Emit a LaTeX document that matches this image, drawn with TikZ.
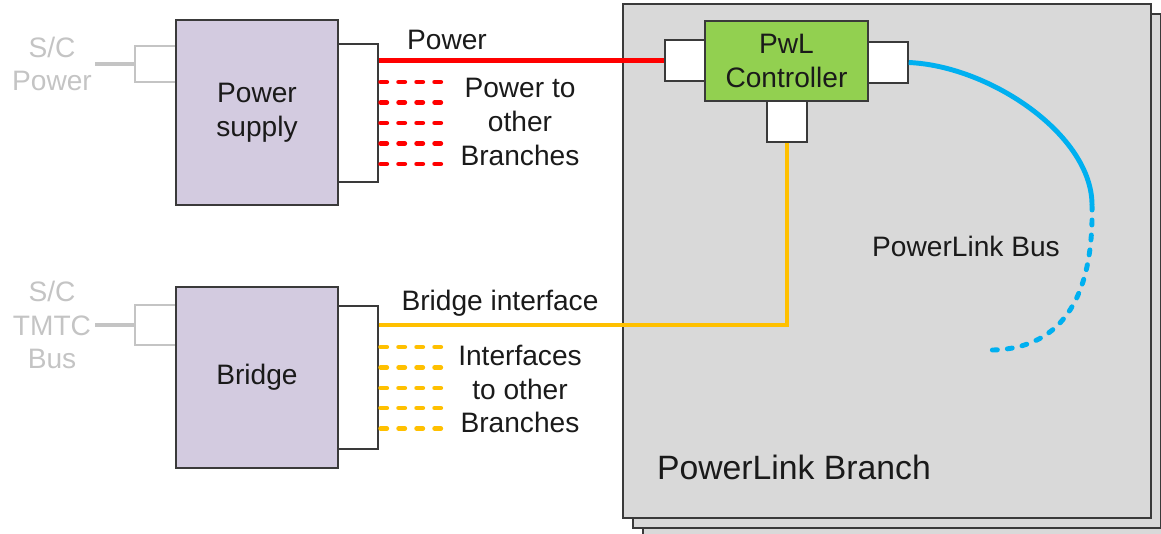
\documentclass[tikz,border=0pt]{standalone}
\usepackage{fontspec}
\setmainfont{Liberation Sans}

\definecolor{lawenda}{HTML}{D3CBE0}
\definecolor{zielony}{HTML}{92D050}
\definecolor{szary}{HTML}{D9D9D9}
\definecolor{jasnoszary}{HTML}{C4C4C4}
\definecolor{czerwony}{HTML}{FF0000}
\definecolor{pomarancz}{HTML}{FFC000}
\definecolor{niebieski}{HTML}{00B0F0}
\definecolor{ramka}{HTML}{3A3A3A}
\definecolor{tekst}{HTML}{1A1A1A}

\newcommand\napis{\fontsize{20}{24}\selectfont}

\tikzset{
  blok/.style={draw=ramka, line width=1pt, fill=lawenda, minimum width=4.05cm,
    align=center, font=\napis, text=tekst},
  port/.style={draw=ramka, line width=1pt, fill=white, minimum width=1cm,
    minimum height=1.025cm, inner sep=0pt},
  wtyk/.style={draw=jasnoszary, line width=1pt, fill=white, minimum width=1.025cm,
    inner sep=0pt},
  strona/.style={draw=ramka, line width=0.8pt, fill=szary},
  opis/.style={align=center, font=\napis, text=tekst, inner sep=0pt},
  szaryopis/.style={opis, text=jasnoszary},
  linia/.style={line width=3.5pt},
  kropki/.style={line width=3.5pt, line cap=round, dash pattern=on 0.15cm off 0.3cm},
  kreski/.style={line width=3.5pt, line cap=round, dash pattern=on 0.125cm off 0.25cm}
}

\begin{document}
\begin{tikzpicture}[x=0.025cm, y=-0.025cm]

% Parametry
\def\xdot{379}
\def\ldot{64}

\clip (0,0) rectangle (1161,533);

% ---------- Galaz: trzy strony ----------
\foreach \d in {20,10,0}
  \draw[strona] (623+\d,4+\d) rectangle (1151+\d,518+\d);
\node[opis, font=\fontsize{24}{28}\selectfont] (branch) at (794,467) {PowerLink Branch};

% ---------- Zasilacz ----------
\coordinate (pszr) at (95,64);
\node[wtyk, minimum height=0.9cm] (pscon) at (155.5,64) {};
\draw[linia, jasnoszary, line width=3pt] (pszr) -- (pscon.west);
\node[szaryopis] (pslab) at (52,64) {S/C\\Power};
\node[blok, minimum height=4.625cm] (ps) at (257,112.5) {Power\\supply};
\node[port, minimum height=3.45cm] (psport) at (358,113) {};

% ---------- Most ----------
\coordinate (brzr) at (95,325);
\node[wtyk, minimum height=1cm] (brcon) at (155.5,325) {};
\draw[linia, jasnoszary, line width=3pt] (brzr) -- (brcon.west);
\node[szaryopis] (brlab) at (52,325) {S/C\\TMTC\\Bus};
\node[blok, minimum height=4.525cm] (br) at (257,377.5) {Bridge};
\node[port, minimum height=3.575cm] (brport) at (358,377.5) {};

% ---------- Kontroler ----------
\node[port] (lport) at (685,60.5) {};
\node[port] (rport) at (888,62.5) {};
\node[port] (dport) at (787,121.5) {};
\node[blok, fill=zielony, minimum width=4.075cm, minimum height=2cm] (ctl) at (786.5,61) {PwL\\Controller};

% ---------- Polaczenia ----------
\draw[linia, czerwony] (psport.east |- lport) -- (lport.west);
\node[opis] (power) at (447,40) {Power};
\foreach \y in {82,102.5,123,143.5,164}
  \draw[kropki, czerwony] (psport.east |- 0,\y) ++(2,0) -- ++(\ldot,0);
\node[opis] (psother) at (520,122) {Power to\\other\\Branches};

\draw[linia, pomarancz] (brport.east |- brcon) -| (dport.south);
\node[opis] (brif) at (500,303) {Bridge interface};
\foreach \y in {347,367.5,388,408,428.5}
  \draw[kropki, pomarancz] (brport.east |- 0,\y) ++(2,0) -- ++(\ldot,0);
\node[opis] (brother) at (520,389) {Interfaces\\to other\\Branches};

% ---------- Magistrala ----------
\coordinate (zakret) at (1092,205);
\coordinate (koniec) at (985,350);
\draw[linia, niebieski] (rport.east) .. controls (990,66) and (1092,135) .. (zakret);
\draw[kreski, niebieski] (zakret) .. controls (1094,300) and (1060,352) .. (koniec);
\node[opis] (bus) at (966,246) {PowerLink Bus};

\end{tikzpicture}
\end{document}
